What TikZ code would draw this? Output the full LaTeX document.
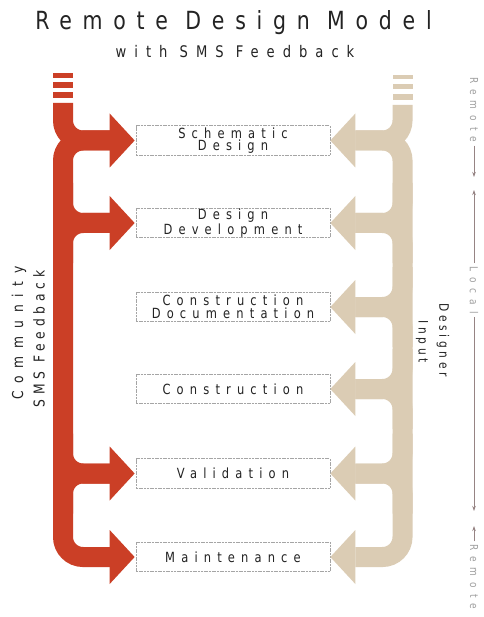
\documentclass[tikz,border=0pt]{standalone}
\usepackage{fontspec}
\usetikzlibrary{calc,arrows.meta}
\newfontfamily\titlefont[FakeStretch=0.82,LetterSpace=43]{DejaVu Sans}
\newfontfamily\subfont[FakeStretch=0.82,LetterSpace=50]{DejaVu Sans}
\newfontfamily\boxfont[FakeStretch=0.82,LetterSpace=44]{DejaVu Sans}
\newfontfamily\commfont[FakeStretch=0.82,LetterSpace=52]{DejaVu Sans}
\newfontfamily\smsfont[FakeStretch=0.82,LetterSpace=32]{DejaVu Sans}
\newfontfamily\desfont[FakeStretch=0.82,LetterSpace=28]{DejaVu Sans}
\newfontfamily\rulerfont[FakeStretch=0.82,LetterSpace=55]{DejaVu Sans}
\definecolor{feedred}{RGB}{203,63,38}
\definecolor{inputtan}{RGB}{219,204,180}
\definecolor{inkgray}{RGB}{35,35,35}
\definecolor{boxline}{RGB}{165,165,165}
\definecolor{rulerline}{RGB}{150,132,132}
\definecolor{rulertext}{RGB}{160,160,160}
\begin{document}
\begin{tikzpicture}[x=1pt,y=-1pt,
  stagebox/.style={draw=boxline, line width=0.7pt, dash pattern=on 2pt off 0.7pt,
    minimum width=194pt, minimum height=29.5pt, inner sep=0pt, align=center,
    font=\boxfont\fontsize{14}{12.5}\selectfont, text=inkgray},
  redarm/.style={draw=feedred, line width=20pt, rounded corners=20pt},
  tanarm/.style={draw=inputtan, line width=20pt, rounded corners=20pt},
  redhead/.style={fill=feedred},
  tanhead/.style={fill=inputtan},
  sidelabel/.style={text=inkgray, inner sep=0pt},
  rulertxt/.style={rotate=-90, text=rulertext, inner sep=3pt,
    font=\rulerfont\fontsize{11}{13}\selectfont},
  ruler/.style={draw=rulerline, line width=0.8pt, -{Stealth[length=5pt,width=3.5pt]}}]
\fill[white] (0,0) rectangle (483,617);
\useasboundingbox (0,0) rectangle (483,617);

% title
\node[anchor=base, text=inkgray, inner sep=0pt,
  font=\titlefont\fontsize{25}{30}\selectfont] (title) at (233.5,30) {Remote Design Model};
\node[anchor=base, text=inkgray, inner sep=0pt,
  font=\subfont\fontsize{16}{19}\selectfont] (subtitle) at (235,58) {with SMS Feedback};

% project stages
\node[stagebox] (b1) at (233,140.5) {Schematic\\Design};
\node[stagebox] (b2) at (233,223) {Design\\Development};
\node[stagebox] (b3) at (233,307) {Construction\\Documentation};
\node[stagebox] (b4) at (233,389) {Construction};
\node[stagebox] (b5) at (233,473.5) {Validation};
\node[stagebox] (b6) at (233,557) {Maintenance};

% trunk axes and shaft ends
\coordinate (rax) at (63,0);
\coordinate (tax) at (402.5,0);
\foreach \i in {1,...,6} {
  \coordinate (r\i) at ($(b\i.west)+(-25,0)$);
  \coordinate (t\i) at ($(b\i.east)+(25,0)$);
}

% community feedback (red)
\fill[feedred] (53,73) rectangle (73,78);
\fill[feedred] (53,82) rectangle (73,88);
\fill[feedred] (53,92) rectangle (73,98);
\draw[redarm] (63,103) -- (r1 -| rax) -- (r1);
\draw[redarm] (r1) -- (r1 -| rax) -- (r6 -| rax) -- (r6);
\foreach \i in {2,5} {
  \draw[redarm] ($(r\i -| rax)+(0,-40)$) -- (r\i -| rax) -- (r\i);
  \draw[redarm] ($(r\i -| rax)+(0,40)$) -- (r\i -| rax) -- (r\i);
}
\foreach \i in {1,2,5,6} {
  \fill[redhead] ($(b\i.west)+(-1,0)$) -- ++(-25,-27) -- ++(0,54) -- cycle;
}

% designer input (tan)
\fill[inputtan] (392.5,75) rectangle (412.5,79);
\fill[inputtan] (392.5,84) rectangle (412.5,89);
\fill[inputtan] (392.5,94) rectangle (412.5,100);
\draw[tanarm] (402.5,105) -- (t1 -| tax) -- (t1);
\draw[tanarm] (t1) -- (t1 -| tax) -- (t6 -| tax) -- (t6);
\foreach \i in {2,...,5} {
  \draw[tanarm] ($(t\i -| tax)+(0,-40)$) -- (t\i -| tax) -- (t\i);
  \draw[tanarm] ($(t\i -| tax)+(0,40)$) -- (t\i -| tax) -- (t\i);
}
\foreach \i in {1,...,6} {
  \fill[tanhead] (b\i.east) -- ++(25,-27) -- ++(0,54) -- cycle;
}

% side labels
\node[sidelabel, rotate=90, font=\commfont\fontsize{15}{18}\selectfont] (comm) at (19,333) {Community};
\node[sidelabel, rotate=90, font=\smsfont\fontsize{15}{18}\selectfont] (sms) at (39,339) {SMS Feedback};
\node[sidelabel, rotate=-90, font=\desfont\fontsize{13}{16}\selectfont] (des) at (443,340) {Designer};
\node[sidelabel, rotate=-90, font=\desfont\fontsize{13}{16}\selectfont] (inp) at (422,341.5) {Input};

% remote / local ruler
\node[rulertxt] (rm1) at (474,110) {Remote};
\node[rulertxt] (loc) at (474,290) {Local};
\node[rulertxt] (rm2) at (474,577) {Remote};
\draw[ruler] (rm1.east) -- (474,177);
\draw[ruler] (loc.west) -- (474,190);
\draw[ruler] (loc.east) -- (474,511);
\draw[ruler] (rm2.west) -- (474,526);
\end{tikzpicture}
\end{document}
